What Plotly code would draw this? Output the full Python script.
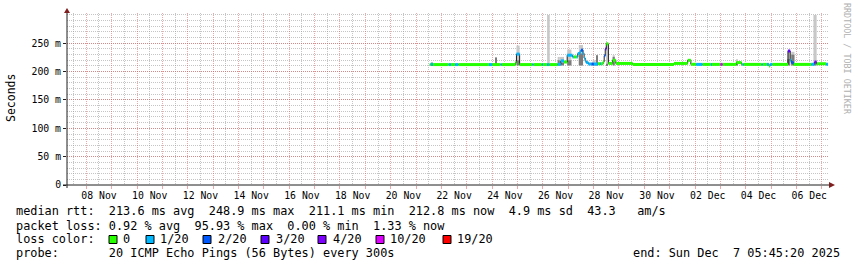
import datetime as dt
import plotly.graph_objects as go

# ------------------------------------------------------------------ data
start_time = "2025-11-07 05:45:20"
end_time = "2025-12-07 05:45:20"

# median rtt (ms) as steps: change time, value, loss-colour index
median_time = [
    "2025-11-21 13:00", "2025-11-21 14:00", "2025-11-21 16:00", "2025-11-22 07:00",
    "2025-11-22 09:00", "2025-11-22 13:00", "2025-11-22 16:00", "2025-11-23 21:00",
    "2025-11-24 00:00", "2025-11-24 08:00", "2025-11-24 09:00", "2025-11-24 22:00",
    "2025-11-24 23:00", "2025-11-25 02:00", "2025-11-25 14:00", "2025-11-25 15:00",
    "2025-11-25 23:00", "2025-11-26 00:00", "2025-11-26 04:00", "2025-11-26 06:00",
    "2025-11-26 14:00", "2025-11-26 17:00", "2025-11-26 20:00", "2025-11-26 23:00",
    "2025-11-27 04:00", "2025-11-27 05:00", "2025-11-27 08:00", "2025-11-27 09:00",
    "2025-11-27 11:00", "2025-11-27 12:00", "2025-11-27 14:00", "2025-11-27 15:00",
    "2025-11-27 16:00", "2025-11-27 17:00", "2025-11-27 19:00", "2025-11-27 22:00",
    "2025-11-28 00:00", "2025-11-28 04:00", "2025-11-28 06:00", "2025-11-28 07:00",
    "2025-11-28 09:00", "2025-11-28 10:00", "2025-11-28 11:00", "2025-11-28 12:00",
    "2025-11-28 14:00", "2025-11-28 18:00", "2025-11-28 21:00", "2025-11-29 13:00",
    "2025-12-01 04:00", "2025-12-01 17:00", "2025-12-01 20:00", "2025-12-02 01:00",
    "2025-12-02 07:00", "2025-12-02 15:00", "2025-12-02 16:00", "2025-12-03 00:00",
    "2025-12-03 02:00", "2025-12-03 15:00", "2025-12-03 20:00", "2025-12-03 21:00",
    "2025-12-03 22:00", "2025-12-04 15:00", "2025-12-04 16:00", "2025-12-04 20:00",
    "2025-12-04 22:00", "2025-12-04 23:00", "2025-12-05 01:00", "2025-12-05 16:00",
    "2025-12-05 18:00", "2025-12-05 19:00", "2025-12-05 21:00", "2025-12-06 14:00",
    "2025-12-06 17:00", "2025-12-06 19:00", "2025-12-07 04:00",
]
median_ms = [
    212.5, 213.0, 212.5, 212.5,
    212.5, 212.5, 212.5, 212.5,
    212.5, 212.5, 212.5, 216.0,
    231.0, 212.5, 212.5, 212.5,
    212.5, 212.5, 212.5, 212.5,
    213.0, 219.0, 217.0, 229.0,
    226.0, 226.0, 226.0, 232.0,
    235.0, 238.0, 232.0, 224.0,
    219.0, 216.0, 213.5, 213.5,
    213.5, 214.0, 214.0, 214.0,
    217.5, 228.0, 240.0, 249.0,
    214.5, 220.0, 214.5, 212.8,
    214.5, 220.0, 213.0, 212.8,
    212.8, 212.8, 212.8, 212.8,
    212.8, 216.0, 212.8, 212.8,
    212.8, 212.8, 212.8, 212.8,
    210.0, 212.8, 212.8, 236.5,
    220.0, 216.0, 212.8, 213.0,
    217.0, 214.0, 213.0,
]
median_loss = [
    0, 1, 0, 1,
    0, 1, 0, 1,
    0, 1, 0, 0,
    1, 0, 1, 0,
    1, 0, 1, 0,
    1, 1, 0, 1,
    1, 0, 1, 1,
    1, 2, 1, 1,
    1, 1, 1, 2,
    1, 0, 1, 0,
    0, 2, 3, 0,
    0, 0, 0, 0,
    0, 0, 0, 1,
    0, 1, 0, 5,
    0, 0, 0, 1,
    0, 1, 0, 1,
    0, 1, 0, 3,
    1, 2, 0, 1,
    4, 0, 1,
]

# smoke (spread of the 20 pings), ms
smoke_start = [
    "2025-11-21 14:00", "2025-11-24 03:00", "2025-11-24 23:00", "2025-11-26 04:00",
    "2025-11-26 14:00", "2025-11-26 16:00", "2025-11-26 23:00", "2025-11-27 10:00",
    "2025-11-27 23:00", "2025-11-28 03:00", "2025-11-28 12:00", "2025-11-28 18:00",
    "2025-12-03 15:00", "2025-12-05 15:00", "2025-12-05 19:00", "2025-12-06 16:00",
]
smoke_end = [
    "2025-11-21 16:00", "2025-11-24 04:00", "2025-11-25 02:00", "2025-11-26 06:30",
    "2025-11-26 16:00", "2025-11-26 20:00", "2025-11-27 03:00", "2025-11-27 14:00",
    "2025-11-28 02:00", "2025-11-28 04:00", "2025-11-28 13:00", "2025-11-28 20:00",
    "2025-12-03 16:00", "2025-12-05 18:00", "2025-12-05 22:00", "2025-12-06 19:00",
]
smoke_lo = [
    211, 211, 211, 211, 211, 211, 211, 211,
    211, 211, 211, 211, 211, 211, 211, 211,
]
smoke_max = [
    217, 225, 246, 300, 226, 226, 239, 247,
    220, 229, 252, 229, 222, 238, 235, 300,
]
smoke_upper = [
    214, 225, 220, 213, 220, 216, 220, 232,
    215, 229, 214, 226, 215, 222, 230, 216,
]

loss_labels = ["0", "1/20", "2/20", "3/20", "4/20", "10/20", "19/20"]

x_tick_days = ["2025-11-08", "2025-11-10", "2025-11-12", "2025-11-14", "2025-11-16",
               "2025-11-18", "2025-11-20", "2025-11-22", "2025-11-24", "2025-11-26",
               "2025-11-28", "2025-11-30", "2025-12-02", "2025-12-04", "2025-12-06"]
x_tick_text = ["08 Nov", "10 Nov", "12 Nov", "14 Nov", "16 Nov", "18 Nov", "20 Nov",
               "22 Nov", "24 Nov", "26 Nov", "28 Nov", "30 Nov", "02 Dec", "04 Dec", "06 Dec"]
y_tick_vals = [0, 50, 100, 150, 200, 250]
y_tick_text = ["0", "50 m", "100 m", "150 m", "200 m", "250 m"]

line_median = "median rtt:  213.6 ms avg  248.9 ms max  211.1 ms min  212.8 ms now  4.9 ms sd  43.3   am/s"
line_loss = "packet loss: 0.92 % avg  95.93 % max  0.00 % min  1.33 % now"
line_color_head = "loss color:"
line_probe = "probe:       20 ICMP Echo Pings (56 Bytes) every 300s"
line_end = "end: Sun Dec  7 05:45:20 2025"
y_title = "Seconds"
watermark = "RRDTOOL / TOBI OETIKER"

# ------------------------------------------------------------------ styles
loss_colors = ["#26ff00", "#00b8ff", "#0059ff", "#5e00ff", "#7e00ff", "#dd00ff", "#ff0000"]
MONO = "DejaVu Sans Mono"
W, H = 857, 267
PL, PR, PT, PB = 67, 828, 13, 185
Y_TOP = 303.5


def px(x):
    return (x - PL) / (PR - PL)


def py(y):
    return (PB - y) / (PB - PT)


def T(s):
    fmt = "%Y-%m-%d %H:%M:%S" if s.count(":") == 2 else "%Y-%m-%d %H:%M"
    return dt.datetime.strptime(s, fmt)


def nb(s):
    return s.replace(" ", "\u00a0")


fig = go.Figure()

# smoke
s0 = [T(a) for a in smoke_start]
s1 = [T(b) for b in smoke_end]
centers = [a + (b - a) / 2 for a, b in zip(s0, s1)]
widths = [(b - a).total_seconds() * 1000 for a, b in zip(s0, s1)]
fig.add_trace(go.Bar(x=centers, y=[m - l for m, l in zip(smoke_max, smoke_lo)], base=smoke_lo,
                     width=widths, marker=dict(color="#c8c8c8", line=dict(width=0)),
                     showlegend=False, hoverinfo="skip"))
fig.add_trace(go.Bar(x=centers, y=[u - l for u, l in zip(smoke_upper, smoke_lo)], base=smoke_lo,
                     width=widths, marker=dict(color="#7c7c7c", line=dict(width=0)),
                     showlegend=False, hoverinfo="skip"))

# dark median line
mt = [T(t) for t in median_time] + [T(end_time)]
fig.add_trace(go.Scatter(x=mt, y=median_ms + [median_ms[-1]], mode="lines",
                         line=dict(color="#202020", width=1, shape="hv"),
                         showlegend=False, hoverinfo="skip"))

# loss-coloured median segments
for k, col in enumerate(loss_colors):
    xs, ys = [], []
    for i, lk in enumerate(median_loss):
        if lk == k:
            xs += [mt[i], mt[i + 1], None]
            ys += [median_ms[i], median_ms[i], None]
    if xs:
        fig.add_trace(go.Scatter(x=xs, y=ys, mode="lines", line=dict(color=col, width=3),
                                 showlegend=False, hoverinfo="skip"))

# carrier for label axis
fig.add_trace(go.Scatter(x=[T(start_time), T(end_time)], y=[None, None], xaxis="x2",
                         mode="lines", showlegend=False, hoverinfo="skip"))

grid_minor = "rgba(150,150,150,0.55)"
grid_major = "rgba(222,79,79,0.5)"
xr = [T(start_time), T(end_time)]

fig.update_layout(
    width=W, height=H, autosize=False,
    margin=dict(l=PL, r=W - PR, t=PT, b=H - PB, pad=0),
    paper_bgcolor="white", plot_bgcolor="white",
    barmode="overlay", showlegend=False,
    xaxis=dict(type="date", range=xr, showticklabels=False,
               tick0="2025-11-08 00:00", dtick=86400000,
               showgrid=True, gridcolor=grid_major, griddash="1px,1px", gridwidth=1,
               ticks="outside", ticklen=3, tickcolor=grid_major,
               minor=dict(dtick=43200000, tick0="2025-11-08 00:00", showgrid=True,
                          gridcolor=grid_minor, griddash="1px,1px", gridwidth=1,
                          ticks=""),
               zeroline=False, showline=False, fixedrange=True),
    xaxis2=dict(type="date", range=xr, overlaying="x", anchor="y", side="bottom",
                tickvals=[T(d + " 12:00") for d in x_tick_days], ticktext=x_tick_text,
                tickfont=dict(family=MONO, size=9.8, color="#000000"),
                ticks="outside", ticklen=1, tickcolor="rgba(0,0,0,0)",
                showgrid=False, zeroline=False, showline=False),
    yaxis=dict(range=[0, Y_TOP], tickvals=y_tick_vals, ticktext=y_tick_text,
               tickfont=dict(family=MONO, size=9.8, color="#000000"),
               showgrid=True, gridcolor=grid_major, griddash="1px,1px", gridwidth=1,
               ticks="outside", ticklen=3, tickcolor="#1f1f1f",
               minor=dict(dtick=10, tick0=0, showgrid=True, gridcolor=grid_minor,
                          griddash="1px,1px", gridwidth=1, ticks=""),
               zeroline=False, showline=False, fixedrange=True),
)

axis_col = "#1f1f1f"
arrow_col = "#801f1f"
shapes = [
    dict(type="line", xref="paper", yref="paper", x0=px(63), x1=px(831), y0=py(185), y1=py(185),
         line=dict(color=axis_col, width=1)),
    dict(type="line", xref="paper", yref="paper", x0=px(67), x1=px(67), y0=py(188), y1=py(11),
         line=dict(color=axis_col, width=1)),
    dict(type="path", xref="paper", yref="paper",
         path=f"M {px(64)} {py(13)} L {px(70)} {py(13)} L {px(67)} {py(8)} Z",
         fillcolor=arrow_col, line=dict(color=arrow_col, width=0)),
    dict(type="path", xref="paper", yref="paper",
         path=f"M {px(829)} {py(182)} L {px(829)} {py(188)} L {px(835)} {py(185)} Z",
         fillcolor=arrow_col, line=dict(color=arrow_col, width=0)),
]

ann = []
LS = 11.86


def text(x, y, s, anchor="left", size=LS, color="#000000", angle=0):
    ann.append(dict(xref="paper", yref="paper", x=px(x), y=py(y), text=nb(s), showarrow=False,
                    xanchor=anchor, yanchor="middle", textangle=angle, borderpad=0,
                    font=dict(family=MONO, size=size, color=color)))


text(15, 211, line_median)
text(15, 225.5, line_loss)
text(15, 239.5, line_color_head)
text(15, 253, line_probe)
text(841, 253, line_end, anchor="right")

box_left = [109, 146, 203, 261, 318, 376, 443]
label_left = [122, 159, 217, 275, 332, 389, 456]
for k, col in enumerate(loss_colors):
    shapes.append(dict(type="rect", xref="paper", yref="paper",
                       x0=px(box_left[k]), x1=px(box_left[k] + 8), y0=py(243.5), y1=py(235.5),
                       fillcolor=col, line=dict(color="#000000", width=1)))
    text(label_left[k], 239.5, loss_labels[k])

ann.append(dict(xref="paper", yref="paper", x=px(11), y=py(98), text=y_title, showarrow=False,
                xanchor="center", yanchor="middle", textangle=-90,
                font=dict(family=MONO, size=11.5, color="#000000")))
ann.append(dict(xref="paper", yref="paper", x=px(847), y=py(59), text=nb(watermark), showarrow=False,
                xanchor="center", yanchor="middle", textangle=90,
                font=dict(family=MONO, size=8.4, color="#b0b0b0")))

fig.update_layout(shapes=shapes, annotations=ann)
fig.write_html("out.html", config={"displayModeBar": False})
